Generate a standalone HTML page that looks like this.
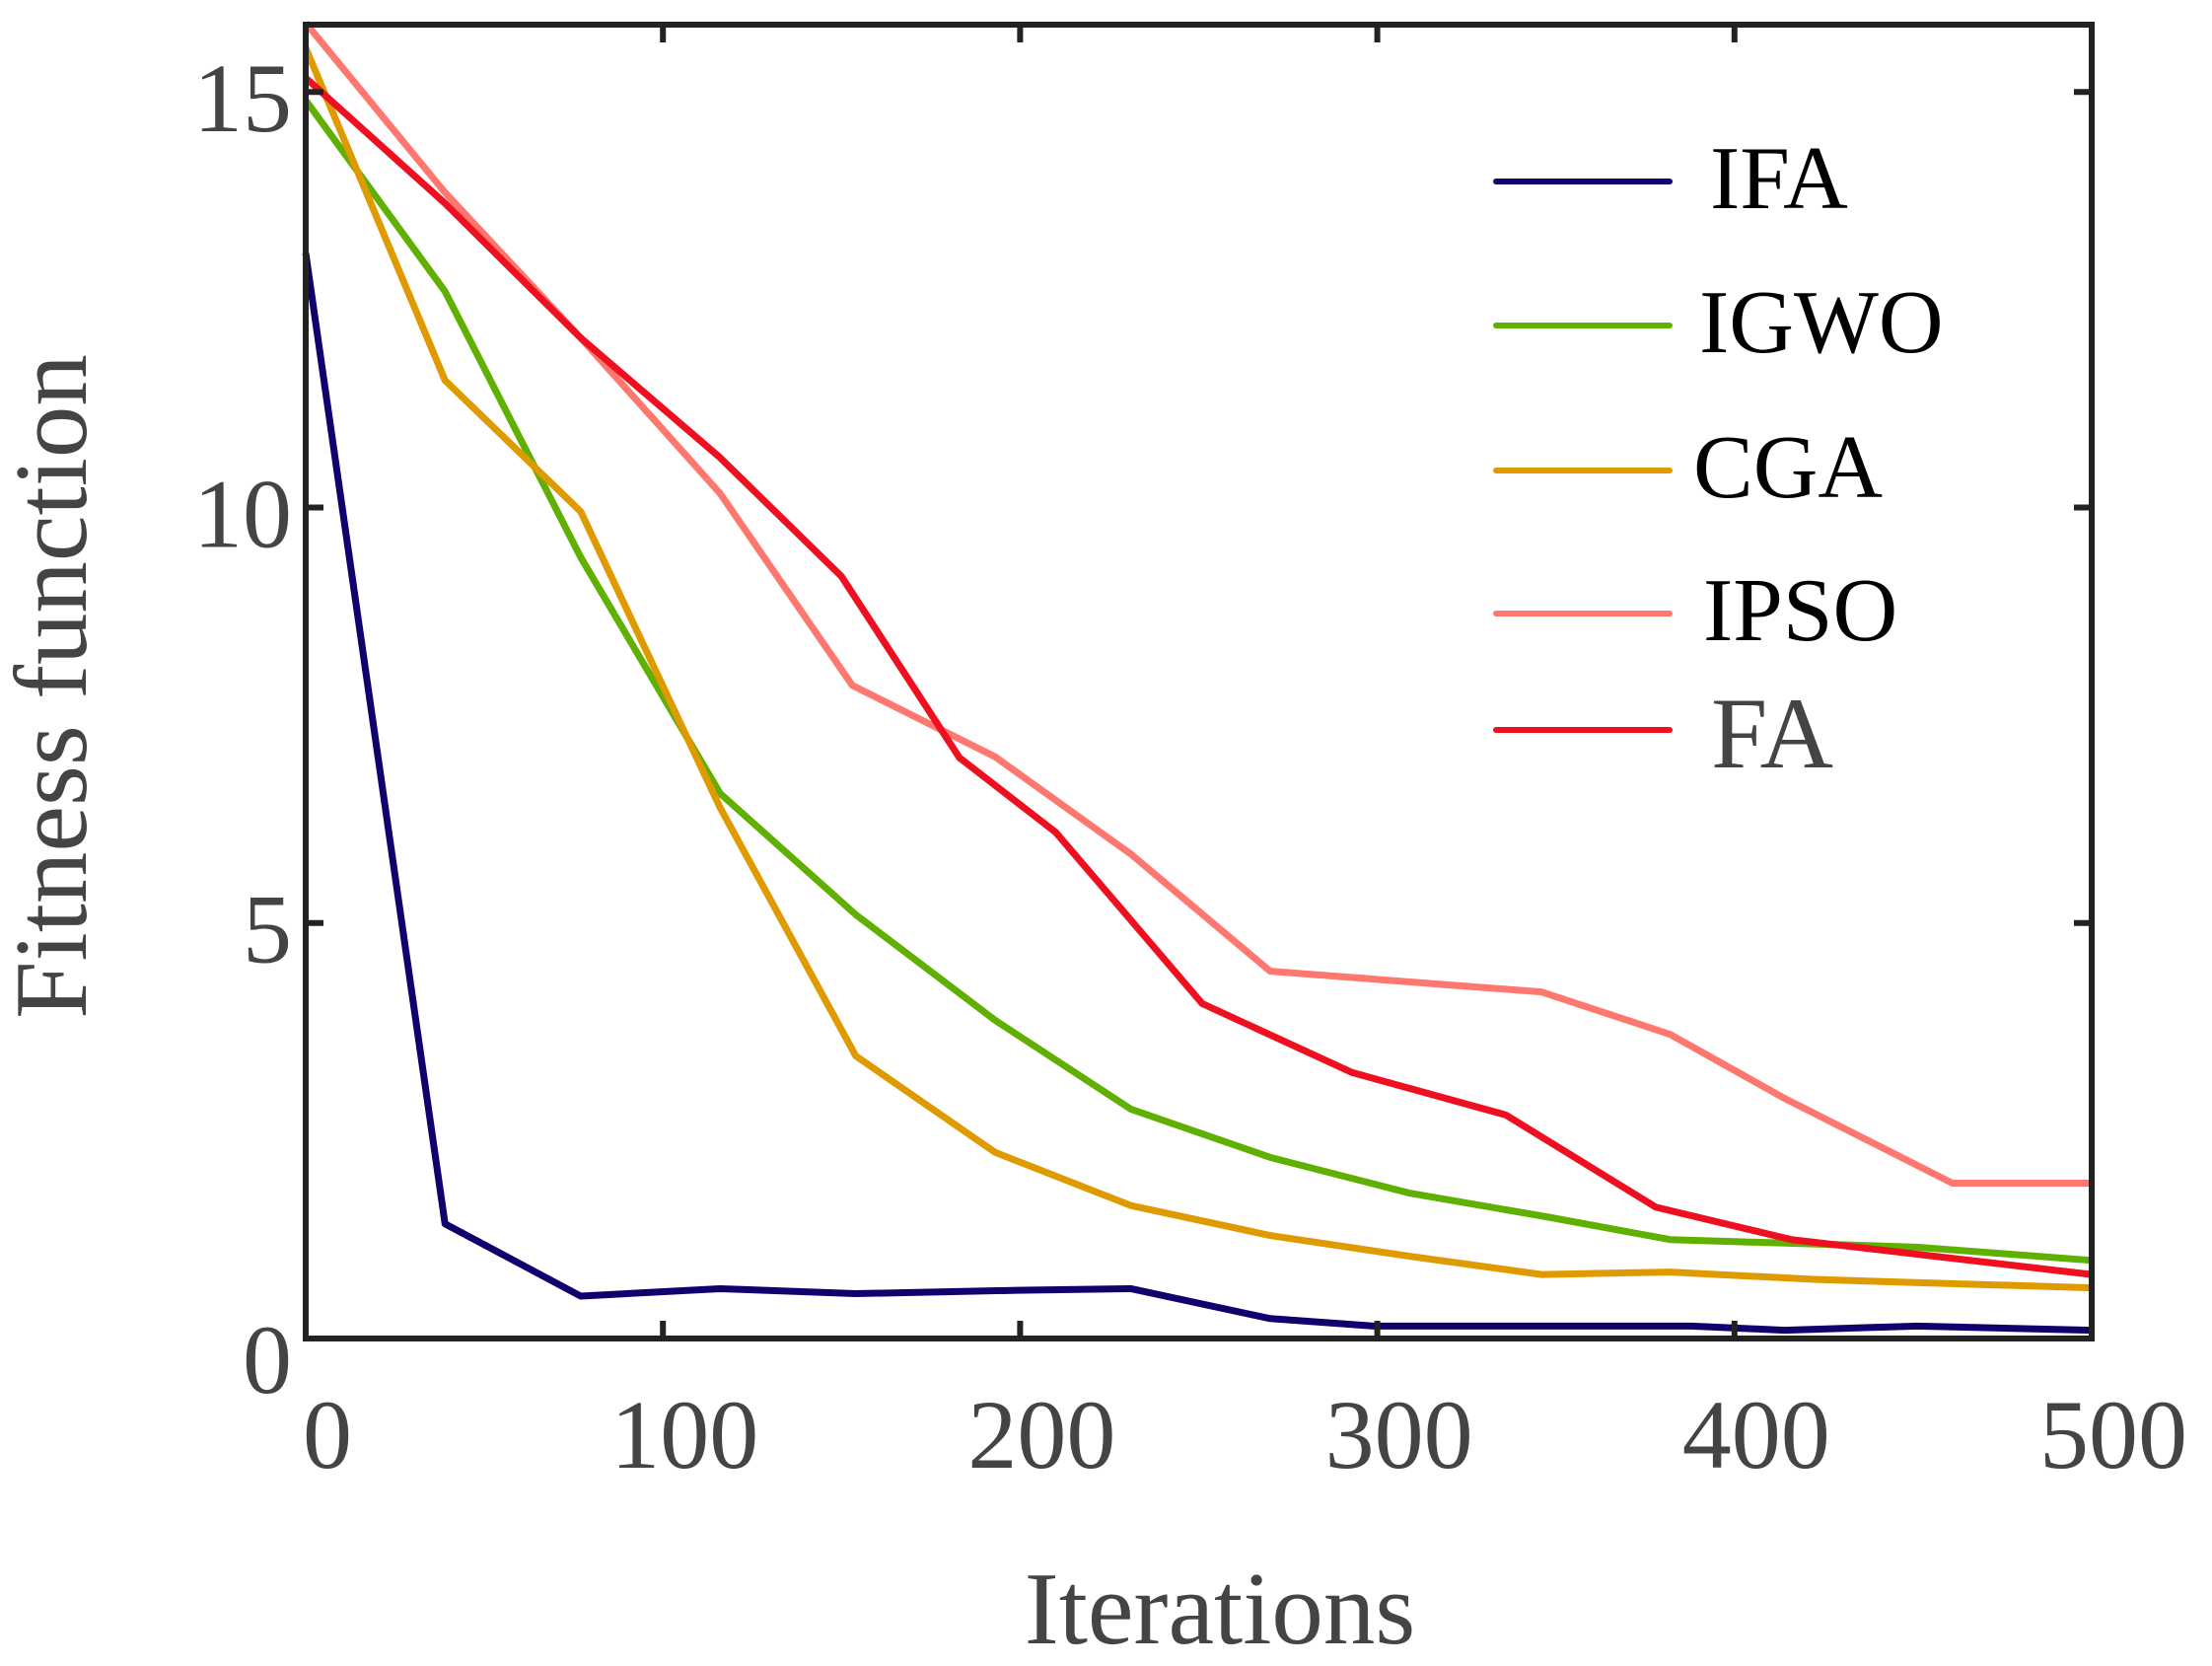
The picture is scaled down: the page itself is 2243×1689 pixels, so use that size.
<!DOCTYPE html>
<html><head><meta charset="utf-8"><style>
html,body{margin:0;padding:0;background:#fff;}
svg{display:block;}
</style></head><body>
<svg id="chart" width="2243" height="1689" viewBox="0 0 2243 1689" xmlns="http://www.w3.org/2000/svg">
<rect x="0" y="0" width="2243" height="1689" fill="#fff"/>
<g id="series"></g>
<g id="axes"></g>
<text x="1237" y="1666" font-family="Liberation Serif, serif" font-size="105" fill="#444" text-anchor="middle">Iterations</text>
<text x="0" y="0" transform="translate(87,696) rotate(-90)" font-family="Liberation Serif, serif" font-size="105" fill="#444" text-anchor="middle">Fitness function</text>
<g id="legend"></g>
</svg>
<script>
const iterX = {
  IFA:  [0,39,77,116,154,199,231,270,299,348,388,414,451,500],
  IGWO: [0,39,77,116,154,193,231,270,309,348,382,451,500],
  CGA:  [0,39,77,116,154,193,231,270,309,346,382,423,500],
  IPSO: [0,39,77,116,153,193,231,270,346,382,414,461,500],
  FA:   [0,39,77,116,150,183,210,251,293,336,378,416,500]
};
const ifaValues  = [13.06,1.38,0.51,0.6,0.54,0.58,0.6,0.24,0.15,0.15,0.15,0.1,0.15,0.1];
const igwoValues = [14.9,12.6,9.4,6.56,5.1,3.83,2.76,2.18,1.75,1.46,1.19,1.1,0.94];
const cgaValues  = [15.53,11.53,9.95,6.39,3.4,2.24,1.6,1.24,0.99,0.77,0.8,0.71,0.61];
const ipsoValues = [15.83,13.79,12.04,10.17,7.86,7.0,5.83,4.42,4.17,3.66,2.89,1.87,1.87];
const faValues   = [15.17,13.66,12.04,10.6,9.17,6.99,6.09,4.03,3.2,2.69,1.58,1.19,0.77];
const seriesNames = ["IFA","IGWO","CGA","IPSO","FA"];
const xTicks = [0,100,200,300,400,500];
const yTicks = [0,5,10,15];

const NS="http://www.w3.org/2000/svg";
const L=310,R=2121,T=25,B=1357;
const xMin=0,xMax=500,yMin=0,yMax=15.81;
function sx(v){return L+(v-xMin)/(xMax-xMin)*(R-L);}
function sy(v){return B-(v-yMin)/(yMax-yMin)*(B-T);}
const colors={IFA:"#10006e",IGWO:"#5fb000",CGA:"#df9a00",IPSO:"#ff7870",FA:"#ee1020"};
const vals={IFA:ifaValues,IGWO:igwoValues,CGA:cgaValues,IPSO:ipsoValues,FA:faValues};
const sg=document.getElementById("series");
seriesNames.forEach(n=>{
  const p=document.createElementNS(NS,"polyline");
  p.setAttribute("points",iterX[n].map((x,i)=>sx(x)+","+sy(vals[n][i])).join(" "));
  p.setAttribute("fill","none");p.setAttribute("stroke",colors[n]);
  p.setAttribute("stroke-width","7");p.setAttribute("stroke-linejoin","round");
  
  
  sg.appendChild(p);
});
const ag=document.getElementById("axes");
function line(x1,y1,x2,y2,name){
  const l=document.createElementNS(NS,"line");
  l.setAttribute("x1",x1);l.setAttribute("y1",y1);l.setAttribute("x2",x2);l.setAttribute("y2",y2);
  l.setAttribute("stroke","#222");l.setAttribute("stroke-width","6");
  
  
  ag.appendChild(l);
}
function text(x,y,s,anchor,name,size,fill){
  const t=document.createElementNS(NS,"text");
  t.setAttribute("x",x);t.setAttribute("y",y);t.setAttribute("font-family","Liberation Serif, serif");
  t.setAttribute("font-size",size);t.setAttribute("fill",fill);t.setAttribute("text-anchor",anchor);
  t.textContent=s;
  
  
  return t;
}
const fr=document.createElementNS(NS,"rect");
fr.setAttribute("x",L);fr.setAttribute("y",T);fr.setAttribute("width",R-L);fr.setAttribute("height",B-T);
fr.setAttribute("fill","none");fr.setAttribute("stroke","#222");fr.setAttribute("stroke-width","6");


ag.appendChild(fr);
xTicks.forEach(v=>{
  const x=sx(v);
  line(x,B,x,B-18,"x-tick-bottom");
  line(x,T,x,T+18,"x-tick-top");
  ag.appendChild(text(x+22,1488,String(v),"middle","x-tick-label",100,"#444"));
});
yTicks.forEach(v=>{
  const y=sy(v);
  line(L,y,L+18,y,"y-tick-left");
  line(R,y,R-18,y,"y-tick-right");
  ag.appendChild(text(296,y+(v===0?55:40),String(v),"end","y-tick-label",100,"#444"));
});
const lg=document.getElementById("legend");
const legY=[184,330,477,622,740];
const legTX=[1734,1723,1717,1727,1735];
seriesNames.forEach((n,i)=>{
  const l=document.createElementNS(NS,"line");
  l.setAttribute("x1",1517);l.setAttribute("x2",1693);l.setAttribute("y1",legY[i]);l.setAttribute("y2",legY[i]);
  l.setAttribute("stroke",colors[n]);l.setAttribute("stroke-width","6");l.setAttribute("stroke-linecap","round");
  
  
  lg.appendChild(l);
  const isFA=n==="FA";
  lg.appendChild(text(legTX[i],legY[i]+(isFA?38:27),n,"start","legend-label-"+n.toLowerCase(),isFA?103:91,isFA?"#444":"#000"));
});
</script>
</body></html>
